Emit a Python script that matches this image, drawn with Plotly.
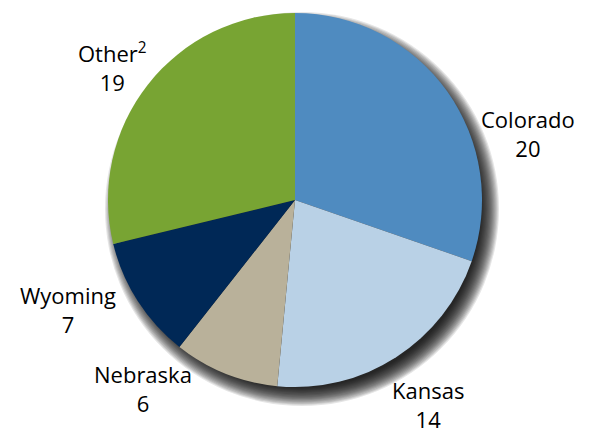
import plotly.graph_objects as go

states = ["Colorado", "Kansas", "Nebraska", "Wyoming", "Other<sup>2</sup>"]
values = [20, 14, 6, 7, 19]
colors = ["#4f8bc0", "#b9d1e6", "#b9b19a", "#002856", "#78a433"]

W, H = 596, 430
OFF = 8  # page body offset
cx, cy, R = 295 - OFF, 200 - OFF, 187

fig = go.Figure(go.Pie(
    labels=states, values=values, sort=False, direction="clockwise",
    rotation=0, marker=dict(colors=colors, line=dict(width=0)),
    textinfo="none", hoverinfo="label+value", showlegend=False,
    domain=dict(x=[(cx - R) / W, (cx + R) / W], y=[1 - (cy + R) / H, 1 - (cy - R) / H]),
))

# soft drop shadow
shapes = []
sx, sy = cx + 7, cy + 9
for i in range(17):
    r = R + 10 - i * 1.15
    shapes.append(dict(type="circle", xref="paper", yref="paper", layer="below",
                       x0=(sx - r) / W, x1=(sx + r) / W,
                       y0=1 - (sy + r) / H, y1=1 - (sy - r) / H,
                       fillcolor="rgba(0,0,0,0.1)", line=dict(width=0)))

# (center x, baseline of name, baseline of value) in page pixels
label_pos = [(528, 128, 155), (428, 399, 426), (143, 383, 410), (68, 304, 330), (112, 62, 87)]
FS = 22
annotations = []
for name, v, (px, b1, b2) in zip(states, values, label_pos):
    yc = (b1 + b2) / 2 - 8
    annotations.append(dict(x=(px - OFF) / W, y=1 - (yc - OFF) / H,
                            xref="paper", yref="paper",
                            text=f"{name}<br>{v}", showarrow=False, align="center",
                            xanchor="center", yanchor="middle",
                            font=dict(family="Open Sans", size=FS, color="#000")))

fig.update_layout(width=W, height=H, margin=dict(l=0, r=0, t=0, b=0),
                  paper_bgcolor="white", plot_bgcolor="white",
                  shapes=shapes, annotations=annotations)
fig.write_html("out.html")
